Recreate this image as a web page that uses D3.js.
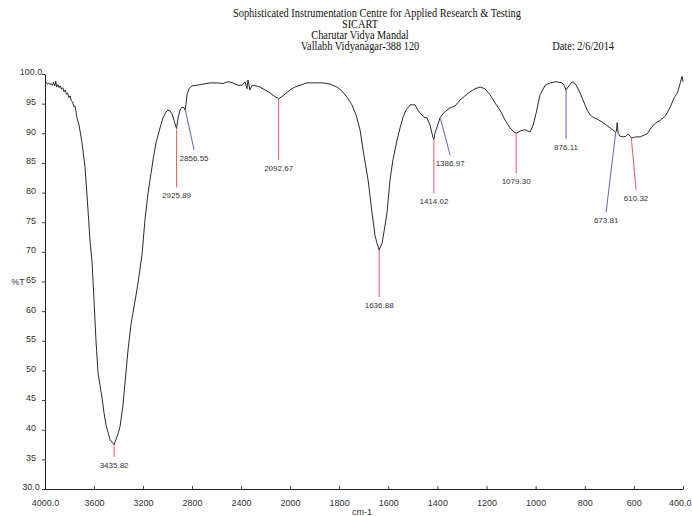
<!DOCTYPE html>
<html>
<head>
<meta charset="utf-8">
<script src="https://cdn.jsdelivr.net/npm/d3@7"></script>
<style>
  html, body { margin: 0; padding: 0; background: #fff; }
  svg { display: block; }
</style>
</head>
<body>
<svg id="chart" width="692" height="516"></svg>
<script>
// ---------------- DATA ----------------
const headerLines = [
  "Sophisticated Instrumentation Centre for Applied Research & Testing",
  "SICART",
  "Charutar Vidya Mandal",
  "Vallabh Vidyanagar-388 120"
];
const dateText = "Date: 2/6/2014";
const yTitle = "%T";
const xTitle = "cm-1";

const xTickValues = [4000, 3600, 3200, 2800, 2400, 2000, 1800, 1600, 1400, 1200, 1000, 800, 600, 400];
const yTickValues = [30, 35, 40, 45, 50, 55, 60, 65, 70, 75, 80, 85, 90, 95, 100];

// spectrum: wavenumber (cm-1) and transmittance (%T)
const wavenumber = [
  4000, 3990, 3980, 3970, 3960, 3950, 3940, 3930, 3920, 3912, 3905, 3895, 3885, 3875, 3865, 3855,
  3845, 3835, 3825, 3815, 3805, 3795, 3785, 3775, 3765, 3755, 3745, 3739, 3722, 3698, 3673, 3649,
  3633, 3616, 3600, 3584, 3567, 3551, 3535, 3518, 3502, 3486, 3469, 3452, 3436, 3420, 3404, 3388,
  3363, 3347, 3322, 3298, 3282, 3257, 3241, 3208, 3184, 3159, 3143, 3118, 3094, 3061, 3037, 3012,
  2996, 2980, 2963, 2947, 2931, 2926, 2914, 2898, 2882, 2865, 2857, 2849, 2841, 2824, 2800, 2759,
  2710, 2653, 2596, 2547, 2506, 2465, 2424, 2392, 2367, 2351, 2343, 2327, 2310, 2278, 2245, 2204,
  2163, 2131, 2098, 2093, 2073, 2041, 2000, 1980, 1959, 1931, 1898, 1866, 1837, 1809, 1788, 1768,
  1748, 1731, 1715, 1699, 1682, 1666, 1654, 1646, 1637, 1625, 1613, 1605, 1593, 1581, 1564, 1552,
  1540, 1528, 1511, 1491, 1479, 1470, 1454, 1442, 1430, 1418, 1414, 1410, 1401, 1389, 1377, 1365,
  1348, 1328, 1308, 1288, 1267, 1247, 1226, 1206, 1186, 1165, 1145, 1124, 1104, 1088, 1079, 1063,
  1043, 1023, 1010, 998, 982, 961, 941, 917, 892, 884, 876, 868, 855, 847, 835, 819,
  802, 790, 778, 766, 750, 729, 713, 697, 680, 674, 671, 668, 664, 656, 644, 632,
  623, 615, 610, 591, 574, 558, 546, 530, 513, 493, 472, 452, 436, 423, 411, 404, 400
];
const transmittance = [
  98.5, 98.6, 98.3, 98.5, 98.2, 98.4, 98.1, 98.6, 98.0, 98.8, 97.8, 98.2, 97.7, 98.0, 97.4, 97.7,
  97.0, 97.3, 96.6, 96.8, 96.0, 96.3, 95.5, 95.3, 94.5, 94.6, 93.4, 92.6, 91.4, 88.4, 84.3, 77.1,
  72.0, 68.3, 61.9, 55.1, 49.6, 47.5, 45.5, 42.8, 40.8, 39.6, 38.3, 37.9, 37.5, 38.4, 39.3, 40.5,
  44.2, 47.9, 53.5, 57.7, 59.7, 62.7, 64.7, 69.5, 75.4, 79.9, 82.1, 85.5, 88.4, 90.9, 92.6, 93.6,
  93.9, 93.8, 93.3, 92.2, 91.1, 90.8, 92.6, 93.9, 94.4, 94.3, 93.9, 94.9, 96.5, 97.5, 98.0, 98.1,
  98.3, 98.5, 98.5, 98.4, 98.7, 98.5, 98.1, 98.1, 98.7, 97.5, 99.0, 97.3, 98.1, 98.0, 97.8, 97.3,
  96.8, 96.3, 95.9, 95.8, 96.1, 96.6, 97.3, 97.8, 98.1, 98.5, 98.5, 98.5, 98.3, 97.8, 97.1, 96.1,
  94.8, 93.1, 90.6, 86.3, 82.1, 76.6, 72.8, 71.5, 70.3, 71.5, 74.5, 76.6, 82.1, 85.5, 88.9, 90.9,
  92.7, 93.9, 94.8, 94.8, 93.9, 93.4, 92.7, 92.6, 91.4, 89.3, 89.0, 90.0, 91.1, 92.6, 93.3, 93.8,
  94.3, 94.6, 95.6, 96.3, 97.0, 97.5, 97.8, 97.5, 96.5, 95.1, 93.9, 92.2, 90.9, 90.2, 90.0, 90.4,
  90.6, 90.2, 91.4, 93.4, 96.5, 98.1, 98.5, 98.7, 98.5, 98.1, 97.3, 97.8, 98.5, 98.7, 98.1, 96.8,
  95.1, 93.9, 93.1, 92.7, 92.4, 91.9, 91.4, 90.9, 90.4, 90.2, 90.3, 91.8, 90.0, 89.5, 89.4, 89.5,
  89.9, 89.5, 89.2, 89.4, 89.4, 89.7, 89.9, 90.9, 91.7, 92.2, 92.9, 94.4, 96.0, 96.8, 98.5, 99.6, 98.7
];

// peak annotations: peak position, %T at the peak, label anchor (wavenumber, %T), line group
const peakWn     = [3435.82, 2925.89, 2856.55, 2092.67, 1636.88, 1414.02, 1386.97, 1079.30, 876.11, 673.81, 610.32];
const peakT      = [37.5,    90.6,    94.1,    95.8,    70.3,    89.0,    92.4,    90.0,    97.3,   90.2,   89.2];
const labelWn    = [3435.82, 2925.89, 2783,    2092.67, 1636.88, 1414.02, 1348,    1079.30, 876.11, 713,    591];
const labelT     = [35.4,    80.9,    87.2,    85.5,    62.4,    79.9,    86.3,    83.3,    89.0,   76.7,   80.4];
const peakGroup  = ["red", "red", "blue", "red", "red", "red", "blue", "red", "blue", "blue", "red"];

// ---------------- DRAW ----------------
const svg = d3.select("#chart");

const x = d3.scaleLinear().domain([4000, 2000, 400]).range([45, 290, 683]);
const y = d3.scaleLinear().domain([30, 100]).range([489, 74]);
const groupColor = d3.scaleOrdinal().domain(["red", "blue"]).range(["#e8585a", "#5a62c8"]);

const tickFont = "'Liberation Sans Narrow', 'Liberation Sans', Arial, sans-serif";
const serifFont = "'Liberation Serif', 'Times New Roman', serif";

// header
const headerX = [377, 360, 360, 360];
const headerY = [17, 28, 39, 50];
const hdr = svg.append("g").selectAll("text").data(headerLines).join("text")
  .attr("x", (d, i) => headerX[i])
  .attr("y", (d, i) => headerY[i])
  .attr("text-anchor", "middle")
  .attr("font-family", serifFont)
  .attr("font-size", 11.5)
  .attr("fill", "#111")
  .text(d => d);
const dt = svg.append("text")
  .attr("x", 614).attr("y", 50)
  .attr("text-anchor", "end")
  .attr("font-family", serifFont)
  .attr("font-size", 11.5)
  .attr("fill", "#111")
  .text(dateText);
// the print uses a slightly condensed serif face
hdr.each(function() {
  const w = this.getComputedTextLength();
  d3.select(this).attr("textLength", w * 0.9).attr("lengthAdjust", "spacingAndGlyphs");
});
dt.each(function() {
  const w = this.getComputedTextLength();
  d3.select(this).attr("textLength", w * 0.9).attr("lengthAdjust", "spacingAndGlyphs");
});

// axes
const fmtX = d => (d === 4000 || d === 400) ? d3.format(".1f")(d) : String(d);
const fmtY = d => (d === 30 || d === 100) ? d3.format(".1f")(d) : String(d);

const xAxis = svg.append("g")
  .attr("transform", `translate(0,${y(30)})`)
  .call(d3.axisBottom(x).tickValues(xTickValues).tickFormat(fmtX).tickSize(-3).tickSizeOuter(0).tickPadding(11));
const yAxis = svg.append("g")
  .attr("transform", `translate(${x(4000)},0)`)
  .call(d3.axisLeft(y).tickValues(yTickValues).tickFormat(fmtY).tickSize(3).tickSizeOuter(0).tickPadding(2));

[xAxis, yAxis].forEach(g => {
  g.select(".domain").attr("stroke", "#222").attr("stroke-width", 1);
  g.selectAll(".tick line").attr("stroke", "#444");
  g.selectAll(".tick text").attr("font-family", tickFont).attr("font-size", 9).attr("fill", "#333");
});
yAxis.selectAll(".tick text").attr("text-anchor", "middle").attr("x", -14).attr("dy", "0.1em");
// keep the right-most label inside the frame
xAxis.selectAll(".tick text").filter(d => d === 400).attr("text-anchor", "end").attr("dx", 8);

// axis titles
svg.append("text").attr("x", 18).attr("y", 285)
  .attr("text-anchor", "middle").attr("font-family", tickFont).attr("font-size", 9).attr("fill", "#333")
  .text(yTitle);
svg.append("text").attr("x", 362).attr("y", 515)
  .attr("text-anchor", "middle").attr("font-family", tickFont).attr("font-size", 9).attr("fill", "#333")
  .text(xTitle);

// spectrum
const pts = wavenumber.map((w, i) => [w, transmittance[i]]);
const line = d3.line().x(d => x(d[0])).y(d => y(d[1]));
svg.append("path")
  .datum(pts)
  .attr("d", line)
  .attr("fill", "none")
  .attr("stroke", "#2a2a2a")
  .attr("stroke-width", 1)
  .attr("stroke-linejoin", "round");

// peak markers
const peaks = peakWn.map((w, i) => ({ w, t: peakT[i], lw: labelWn[i], lt: labelT[i], g: peakGroup[i] }));
const pg = svg.append("g");
pg.selectAll("line").data(peaks).join("line")
  .attr("x1", d => x(d.w)).attr("y1", d => y(d.t))
  .attr("x2", d => x(d.lw)).attr("y2", d => y(d.lt))
  .attr("stroke", d => groupColor(d.g))
  .attr("stroke-width", 1);
pg.selectAll("text").data(peaks).join("text")
  .attr("x", d => x(d.lw))
  .attr("y", d => y(d.lt) + 11)
  .attr("text-anchor", "middle")
  .attr("font-family", tickFont)
  .attr("font-size", 8)
  .attr("fill", "#333")
  .text(d => d3.format(".2f")(d.w));
</script>
</body>
</html>
